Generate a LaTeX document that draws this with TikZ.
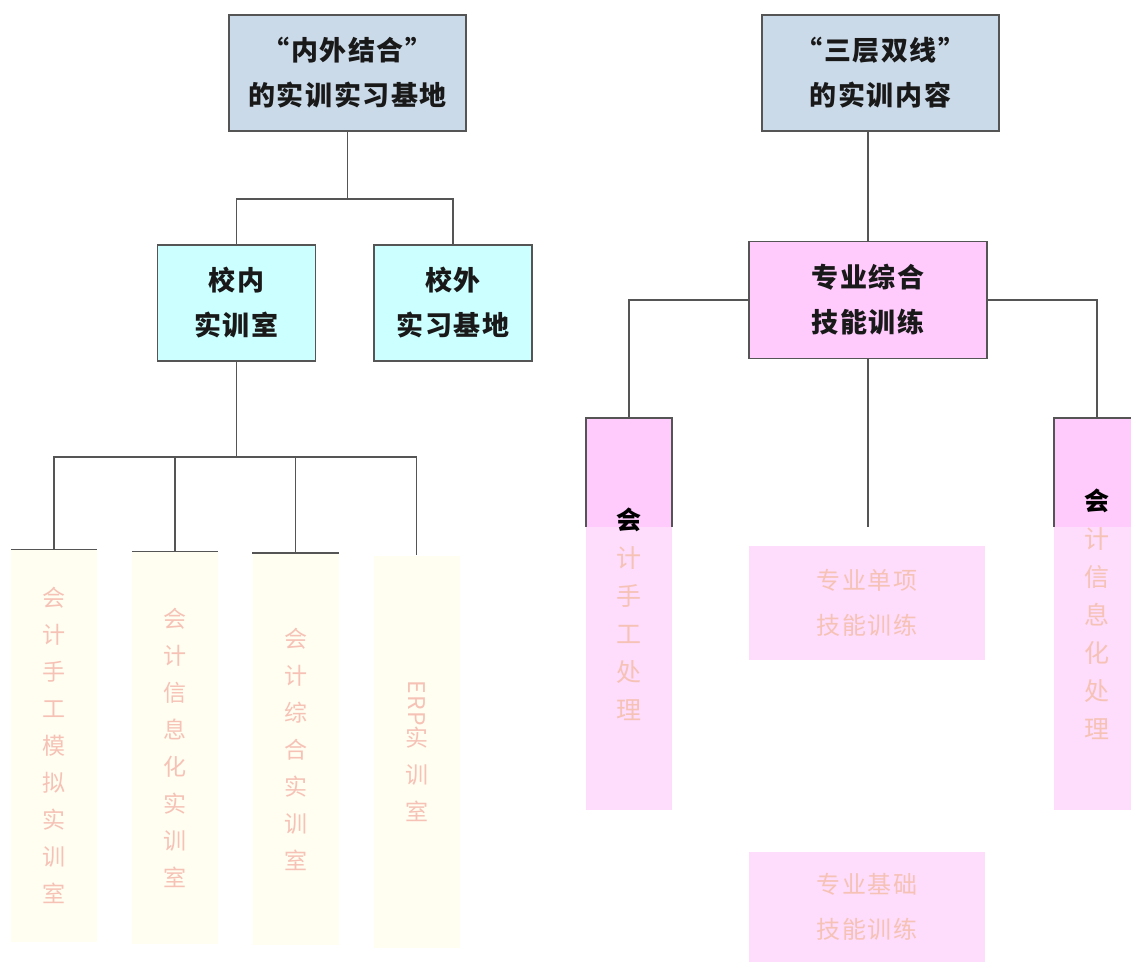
\documentclass[tikz,border=0pt]{standalone}
\usepackage{fontspec}
\newfontfamily\cjk[LetterSpace=6]{Noto Sans CJK SC}
\usetikzlibrary{positioning, calc}

\definecolor{edgegray}{HTML}{555555}
\definecolor{headfill}{HTML}{CBDAE9}
\definecolor{sitefill}{HTML}{CCFFFF}
\definecolor{skillfill}{HTML}{FFCAFC}
\definecolor{roomfill}{HTML}{FFFEF1}
\definecolor{fadepink}{HTML}{FDDDFB}
\definecolor{fadetext}{HTML}{F6C2B6}

\begin{document}
\begin{tikzpicture}[x=1pt, y=-1pt,
    box/.style={rectangle, draw=edgegray, line width=1.5pt, inner sep=0pt, align=center, text=black!90, font=\cjk\bfseries\fontsize{27}{45}\selectfont},
    headbox/.style={box, fill=headfill, minimum width=237pt, minimum height=116pt},
    sitebox/.style={box, fill=sitefill, minimum width=158pt, minimum height=116pt},
    skillbox/.style={box, fill=skillfill, minimum width=238pt, minimum height=117pt},
    roombox/.style={rectangle, fill=roomfill, inner sep=0pt, align=center, text=fadetext, minimum width=86pt, minimum height=392pt, font=\cjk\fontsize{23}{37}\selectfont},
    sidebox/.style={roombox, fill=fadepink, font=\cjk\fontsize{25}{38}\selectfont,
        path picture={\fill[skillfill] (path picture bounding box.north west) rectangle ([yshift=-109pt]path picture bounding box.north east);}},
    fadebox/.style={roombox, fill=fadepink, minimum width=236pt, minimum height=114pt, font=\cjk\fontsize{24}{45}\selectfont},
    link/.style={draw=edgegray, line width=1.5pt}
]
\useasboundingbox (0,0) rectangle (1131,963);

% 左侧：实训实习基地
\node[headbox] (base)  at (347.5,73) {“内外结合”\\的实训实习基地};
\node[sitebox] (inner) at (236.5,303) {校内\\实训室};
\node[sitebox] (outer) at (453,303) {校外\\实习基地};

\node[roombox] (m1) at (54,745.5)  {会\\计\\手\\工\\模\\拟\\实\\训\\室};
\node[roombox] (m2) at (175,747.5) {会\\计\\信\\息\\化\\实\\训\\室};
\node[roombox] (m3) at (295.5,749) {会\\计\\综\\合\\实\\训\\室};
\node[roombox] (m4) at (416.5,751.5) {\rotatebox{-90}{ERP}\\实\\训\\室};

\coordinate (busA) at (base.south |- 0,199);
\coordinate (busB) at (inner.south |- 0,457);
\draw[link] (base) -- (busA) -| (inner);
\draw[link] (busA) -| (outer);
\draw[link] (inner) -- (busB);
\foreach \r in {m1,m2,m3,m4}
  \draw[link] (busB) -| (\r.north);
\foreach \r in {m1,m2,m3}
  \draw[link] (\r.north west) -- (\r.north east);

% 右侧：实训内容
\node[headbox]  (content) at (880.5,73) {“三层双线”\\的实训内容};
\node[skillbox] (comp)    at (868,300) {专业综合\\技能训练};

\node[sidebox] (manual)  at (629,614)  {{\color{black}\bfseries 会}\\计\\手\\工\\处\\理};
\node[sidebox] (infosys) at (1097,614) {{\color{black}\bfseries 会}\\计\\信\\息\\化\\处\\理};
\node[fadebox] (single)  at (867,603)  {专业单项\\技能训练};
\node[fadebox, minimum height=110pt] (basic) at (867,907) {专业基础\\技能训练};

\coordinate (fadeend) at (comp.south |- 0,527);
\draw[link] (comp.north |- content.south) -- (comp);
\draw[link] (comp) -- (fadeend);
\draw[link] (comp.west) -| (manual.north);
\draw[link] (comp.east) -| (infosys.north);
\foreach \r in {manual,infosys}
  \draw[link] ([yshift=-109pt]\r.north west) -- (\r.north west) -- (\r.north east) -- ([yshift=-109pt]\r.north east);

\end{tikzpicture}
\end{document}
